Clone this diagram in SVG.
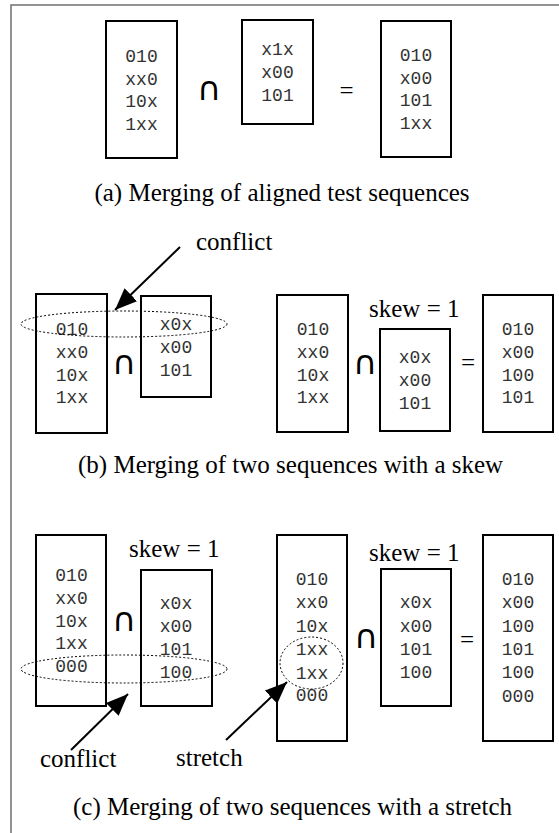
<svg xmlns="http://www.w3.org/2000/svg" width="559" height="833" viewBox="0 0 559 833">
  <style>
    .box { fill: #fff; stroke: #000; stroke-width: 2; }
    .seq { font-family: "Liberation Mono", "Courier New", monospace; font-size: 18px; fill: #333; text-anchor: middle; }
    .lbl { font-family: "Liberation Serif", "Times New Roman", serif; font-size: 25px; fill: #000; }
    .op { font-family: "DejaVu Sans", sans-serif; font-size: 33px; fill: #000; text-anchor: middle; }
    .eq { font-family: "Liberation Serif", "Times New Roman", serif; font-size: 25px; fill: #000; text-anchor: middle; }
    .ring { fill: none; stroke: #000; stroke-width: 1; stroke-dasharray: 2 2; }
    .arrow { stroke: #000; stroke-width: 2; fill: none; marker-end: url(#head); }
  </style>
  <defs>
    <marker id="head" viewBox="0 0 22 18" refX="22" refY="9" markerWidth="22" markerHeight="18" markerUnits="userSpaceOnUse" orient="auto">
      <path d="M0,0 L22,9 L0,18 z" fill="#000"/>
    </marker>
  </defs>
  <rect width="559" height="833" fill="#fff"/>

  <!-- page frame -->
  <path d="M11,833 V5 H559" fill="none" stroke="#707070" stroke-width="1.5"/>

  <!-- (a) aligned merge -->
  <g id="a-seq1">
    <rect class="box" x="106" y="21" width="71" height="137"/>
    <text class="seq" x="141.5" y="62">010</text>
    <text class="seq" x="141.5" y="85">xx0</text>
    <text class="seq" x="141.5" y="107">10x</text>
    <text class="seq" x="141.5" y="130">1xx</text>
  </g>
  <g id="a-op"><text class="op" x="209" y="100">∩</text></g>
  <g id="a-seq2">
    <rect class="box" x="242" y="20" width="71" height="104"/>
    <text class="seq" x="277.5" y="55">x1x</text>
    <text class="seq" x="277.5" y="78">x00</text>
    <text class="seq" x="277.5" y="101">101</text>
  </g>
  <g id="a-eq"><text class="eq" x="346.5" y="99">=</text></g>
  <g id="a-result">
    <rect class="box" x="381" y="21" width="70" height="136"/>
    <text class="seq" x="416" y="61">010</text>
    <text class="seq" x="416" y="84">x00</text>
    <text class="seq" x="416" y="106">101</text>
    <text class="seq" x="416" y="129">1xx</text>
  </g>
  <text class="lbl" x="282" y="201" text-anchor="middle">(a) Merging of aligned test sequences</text>

  <!-- (b) skewed merge -->
  <g id="b-seq1">
    <rect class="box" x="36" y="294" width="71" height="139"/>
    <text class="seq" x="72" y="335">010</text>
    <text class="seq" x="72" y="358">xx0</text>
    <text class="seq" x="72" y="381">10x</text>
    <text class="seq" x="72" y="403">1xx</text>
  </g>
  <g id="b-op1"><text class="op" x="124" y="374">∩</text></g>
  <g id="b-seq2">
    <rect class="box" x="141" y="296" width="70" height="101"/>
    <text class="seq" x="176" y="330">x0x</text>
    <text class="seq" x="176" y="353">x00</text>
    <text class="seq" x="176" y="376">101</text>
  </g>
  <g id="b-conflict">
    <ellipse class="ring" cx="124" cy="324" rx="103" ry="13"/>
    <text class="lbl" x="196" y="250">conflict</text>
  </g>

  <g id="b-seq3">
    <rect class="box" x="277" y="295" width="71" height="137"/>
    <text class="seq" x="313" y="335">010</text>
    <text class="seq" x="313" y="358">xx0</text>
    <text class="seq" x="313" y="381">10x</text>
    <text class="seq" x="313" y="403">1xx</text>
  </g>
  <g id="b-op2"><text class="op" x="365" y="374">∩</text></g>
  <g id="b-seq4">
    <text class="lbl" x="369" y="317">skew = 1</text>
    <rect class="box" x="380" y="329" width="70" height="102"/>
    <text class="seq" x="415" y="363">x0x</text>
    <text class="seq" x="415" y="386">x00</text>
    <text class="seq" x="415" y="409">101</text>
  </g>
  <g id="b-eq"><text class="eq" x="468" y="371">=</text></g>
  <g id="b-result">
    <rect class="box" x="483" y="295" width="70" height="137"/>
    <text class="seq" x="518" y="335">010</text>
    <text class="seq" x="518" y="358">x00</text>
    <text class="seq" x="518" y="381">100</text>
    <text class="seq" x="518" y="403">101</text>
  </g>
  <text class="lbl" x="78" y="473">(b) Merging of two sequences with a skew</text>

  <!-- (c) stretched merge -->
  <g id="c-seq1">
    <rect class="box" x="36" y="535" width="70" height="171"/>
    <text class="seq" x="71.5" y="581">010</text>
    <text class="seq" x="71.5" y="604">xx0</text>
    <text class="seq" x="71.5" y="627">10x</text>
    <text class="seq" x="71.5" y="649">1xx</text>
    <text class="seq" x="71.5" y="672">000</text>
  </g>
  <g id="c-op1"><text class="op" x="124" y="631">∩</text></g>
  <g id="c-seq2">
    <text class="lbl" x="129" y="557">skew = 1</text>
    <rect class="box" x="141" y="570" width="71" height="136"/>
    <text class="seq" x="176" y="609">x0x</text>
    <text class="seq" x="176" y="632">x00</text>
    <text class="seq" x="176" y="655">101</text>
    <text class="seq" x="176" y="678">100</text>
  </g>
  <g id="c-conflict">
    <ellipse class="ring" cx="124" cy="669" rx="103" ry="14"/>
    <text class="lbl" x="40" y="767">conflict</text>
  </g>

  <g id="c-seq3">
    <rect class="box" x="277" y="535" width="70" height="206"/>
    <text class="seq" x="312" y="585">010</text>
    <text class="seq" x="312" y="608">xx0</text>
    <text class="seq" x="312" y="632">10x</text>
    <text class="seq" x="312" y="655">1xx</text>
    <text class="seq" x="312" y="679">1xx</text>
    <text class="seq" x="312" y="701">000</text>
  </g>
  <g id="c-stretch">
    <ellipse class="ring" cx="311.5" cy="663" rx="31.5" ry="26"/>
    <text class="lbl" x="176" y="766">stretch</text>
  </g>
  <g id="c-op2"><text class="op" x="366" y="648">∩</text></g>
  <g id="c-seq4">
    <text class="lbl" x="369" y="561">skew = 1</text>
    <rect class="box" x="381" y="569" width="70" height="137"/>
    <text class="seq" x="416" y="608">x0x</text>
    <text class="seq" x="416" y="632">x00</text>
    <text class="seq" x="416" y="655">101</text>
    <text class="seq" x="416" y="678">100</text>
  </g>
  <g id="c-eq"><text class="eq" x="467" y="648">=</text></g>
  <g id="c-result">
    <rect class="box" x="483" y="535" width="70" height="206"/>
    <text class="seq" x="518" y="585">010</text>
    <text class="seq" x="518" y="608">x00</text>
    <text class="seq" x="518" y="632">100</text>
    <text class="seq" x="518" y="655">101</text>
    <text class="seq" x="518" y="678">100</text>
    <text class="seq" x="518" y="702">000</text>
  </g>
  <text class="lbl" x="73" y="815">(c) Merging of two sequences with a stretch</text>

  <!-- pointer arrows -->
  <g id="connectors">
    <line class="arrow" x1="180" y1="247" x2="115" y2="310"/>
    <line class="arrow" x1="71" y1="750" x2="128" y2="694"/>
    <line class="arrow" x1="226" y1="740" x2="287" y2="682"/>
  </g>
</svg>
